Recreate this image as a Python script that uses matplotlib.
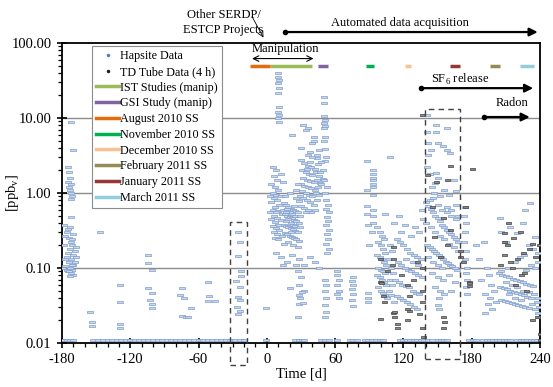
import matplotlib
matplotlib.use("Agg")
import matplotlib.pyplot as plt
from matplotlib.lines import Line2D
from matplotlib.patches import Rectangle
from matplotlib.ticker import FixedLocator, FormatStrFormatter, LogLocator, NullFormatter, MultipleLocator

plt.rcParams["font.family"] = "Liberation Serif"
plt.rcParams["mathtext.fontset"] = "custom"
plt.rcParams["mathtext.rm"] = "Liberation Serif"
plt.rcParams["axes.unicode_minus"] = False

# ---------------------------------------------------------------------------
# Data: (day, ppbv)
# ---------------------------------------------------------------------------

# Hapsite, baseline period before day 0
hap_pre = [
    (-178, 0.38), (-177, 0.27), (-176, 0.30), (-175, 0.33), (-174, 0.25), (-172, 0.22),
    (-171, 0.20), (-173, 0.18), (-175, 0.16), (-170, 0.15), (-176, 0.14), (-172, 0.13),
    (-174, 0.12), (-170, 0.11), (-177, 0.105), (-173, 0.10), (-171, 0.095), (-175, 0.09),
    (-172, 0.085), (-170, 0.08), (-173, 0.078), (-169, 0.12), (-169, 0.17), (-171, 0.24),
    (-178, 0.20), (-177, 0.13), (-179, 0.10), (-176, 0.095), (-174, 0.09), (-171, 0.11),
    (-168, 0.14), (-168, 0.19), (-170, 0.28), (-173, 0.35), (-172, 0.48), (-175, 2.2),
    (-174, 1.9), (-173, 1.6), (-175, 1.4), (-172, 1.3), (-174, 1.2), (-173, 1.1),
    (-172, 1.0), (-171, 0.9), (-172, 0.82), (-170, 3.7), (-172, 8.8),
    (-155, 0.026), (-154, 0.019), (-154, 0.017), (-147, 0.30),
    (-129, 0.059), (-129, 0.035), (-129, 0.018), (-129, 0.016),
    (-104, 0.15), (-104, 0.117), (-101, 0.093), (-104, 0.054), (-101, 0.047),
    (-103, 0.037), (-101, 0.033), (-101, 0.029),
    (-76, 0.044), (-75, 0.054), (-73, 0.040), (-75, 0.023), (-71, 0.022),
    (-67, 0.029), (-69, 0.022), (-52, 0.065), (-51, 0.042), (-52, 0.036), (-46, 0.036),
    (-25, 0.30), (-24, 0.22), (-25, 0.145), (-23, 0.09), (-23, 0.078), (-27, 0.068),
    (-24, 0.055), (-25, 0.041), (-24, 0.037), (-26, 0.030), (-24, 0.027), (-25, 0.024),
    (-1, 0.029),
]

# Hapsite, manipulation period (days 0-60)
hap_manip = [
    (10, 39.5), (10, 35.6), (11, 32), (10, 29), (11, 24.9), (10, 21.4), (11, 14.1),
    (10, 12.1), (11, 10.9), (10, 9.9), (11, 8.9),
    (32, 8.1), (34, 7.0), (22, 5.9), (36, 7.3), (41, 5.6), (41, 5.0), (40, 4.6),
    (30, 4.0), (38, 3.5), (44, 3.2), (46, 3.8),
    (50, 19.3), (50, 16), (50, 10.6), (51, 9.4), (50, 8.6), (51, 7.9), (50, 7.3),
    (51, 5.6), (50, 4.9), (51, 3.9), (52, 3.0), (51, 2.7),
    (5, 2.2), (8, 2.0), (6, 1.7), (9, 1.5), (4, 1.3), (7, 1.2), (10, 1.1), (5, 1.0),
    (8, 0.95), (12, 0.9), (6, 0.85), (9, 0.8), (4, 0.75), (11, 0.7), (7, 0.65),
    (5, 0.6), (10, 0.58), (8, 0.55), (13, 0.52), (6, 0.5), (9, 0.47), (4, 0.45),
    (12, 0.43), (7, 0.41), (10, 0.38), (5, 0.36), (8, 0.34), (11, 0.32), (6, 0.3),
    (9, 0.28), (13, 0.27), (7, 0.25), (10, 0.24), (14, 0.6), (14, 1.4), (12, 1.8),
    (3, 0.9), (3, 0.55),
    (15, 0.74), (17, 0.7), (19, 0.66), (21, 0.62), (23, 0.6), (25, 0.57), (27, 0.55),
    (16, 0.52), (18, 0.5), (20, 0.48), (22, 0.46), (24, 0.44), (26, 0.42), (28, 0.4),
    (15, 0.38), (17, 0.36), (19, 0.35), (21, 0.34), (23, 0.33), (25, 0.31), (27, 0.3),
    (16, 0.29), (18, 0.28), (20, 0.27), (22, 0.26), (24, 0.25), (26, 0.24), (28, 0.23),
    (17, 0.42), (19, 0.45), (21, 0.4), (23, 0.37), (25, 0.36), (20, 0.56), (22, 0.53),
    (18, 0.62), (24, 0.68), (16, 0.9), (20, 1.0), (26, 0.85), (28, 0.78), (15, 0.21),
    (19, 0.22), (23, 0.2), (27, 0.19), (21, 0.3), (17, 0.55), (25, 0.5), (29, 0.35),
    (29, 0.5),
    (30, 2.75), (33, 2.5), (36, 2.3), (39, 2.2), (42, 2.1), (45, 2.4), (48, 2.6),
    (31, 2.0), (34, 1.9), (37, 1.8), (40, 1.75), (43, 1.9), (46, 1.7), (49, 2.0),
    (32, 1.6), (35, 1.5), (38, 1.45), (41, 1.4), (44, 1.5), (47, 1.35), (30, 1.3),
    (33, 1.25), (36, 1.2), (39, 1.15), (42, 1.1), (45, 1.2), (48, 1.3), (31, 1.05),
    (34, 1.0), (37, 0.95), (40, 0.9), (43, 1.0), (46, 0.95), (32, 0.85), (35, 0.8),
    (38, 0.75), (41, 0.7), (44, 0.8), (30, 0.68), (33, 0.64), (36, 0.6), (39, 0.56),
    (42, 0.6), (34, 0.55), (29, 0.9), (44, 2.9), (40, 3.0), (36, 3.2), (47, 1.9),
    (49, 1.55), (27, 1.3), (26, 1.1), (35, 2.1), (38, 2.6),
    (52, 0.8), (54, 0.7), (52, 0.62), (55, 0.55), (53, 0.48), (54, 0.42), (52, 0.37),
    (55, 0.32), (53, 0.28), (54, 0.24), (52, 0.21), (55, 0.18), (53, 0.16), (51, 1.0),
    (53, 1.2), (50, 1.5),
    (8, 0.16), (12, 0.14), (18, 0.12), (22, 0.15), (28, 0.13), (33, 0.11), (38, 0.14),
    (42, 0.12), (46, 0.1), (14, 0.11),
    (20, 0.054), (26, 0.11), (28, 0.044), (28, 0.033), (27, 0.022), (33, 0.05),
    (27, 0.09), (30, 0.075), (28, 0.06), (31, 0.048), (29, 0.04), (32, 0.034),
    (51, 0.07), (52, 0.06), (51, 0.05), (52, 0.04), (51, 0.032), (52, 0.026), (51, 0.022),
]

# Hapsite, automated period before the SF6 box (days 60-139)
hap_mid = [
    (62, 0.09), (62, 0.08), (63, 0.07), (62, 0.06), (63, 0.05), (62, 0.045), (63, 0.04),
    (76, 0.077), (75, 0.068), (76, 0.06), (75, 0.052), (76, 0.045), (75, 0.038), (76, 0.031),
    (88, 2.7), (93, 2.0), (93, 1.8), (93, 1.6), (93, 1.5), (93, 1.3), (93, 1.2), (88, 1.1),
    (93, 0.94), (88, 0.67), (93, 0.6), (88, 0.53), (93, 0.5), (89, 0.047), (89, 0.04),
    (89, 0.035), (90, 0.2), (92, 0.3), (89, 0.38), (93, 0.4),
    (108, 3.0), (104, 0.53), (97, 0.35), (99, 0.3), (101, 0.27), (103, 0.24), (98, 0.22),
    (100, 0.2), (102, 0.18), (104, 0.16), (97, 0.15), (99, 0.14), (101, 0.13), (103, 0.12),
    (105, 0.11), (98, 0.1), (100, 0.095), (102, 0.09), (104, 0.085), (97, 0.08),
    (99, 0.075), (101, 0.07), (103, 0.065), (105, 0.06), (98, 0.055), (100, 0.05),
    (102, 0.047), (104, 0.044), (106, 0.04), (108, 0.2), (110, 0.17), (107, 0.13),
    (109, 0.1), (111, 0.085), (108, 0.07), (110, 0.06), (107, 0.05), (109, 0.043), (112, 0.035),
    (114, 0.24), (117, 0.22), (120, 0.2), (123, 0.18), (126, 0.16), (129, 0.15), (132, 0.14),
    (135, 0.13), (115, 0.12), (118, 0.11), (121, 0.1), (124, 0.095), (127, 0.09),
    (130, 0.085), (133, 0.08), (136, 0.075), (113, 0.07), (116, 0.065), (119, 0.06),
    (122, 0.058), (125, 0.055), (128, 0.05), (131, 0.047), (134, 0.045), (114, 0.042),
    (117, 0.04), (120, 0.037), (123, 0.035), (126, 0.033), (129, 0.03), (132, 0.028),
    (121, 0.37), (118, 0.3), (127, 0.27), (134, 0.3), (136, 0.6), (137, 0.45), (130, 0.35),
    (112, 0.4), (116, 0.5), (122, 0.13), (128, 0.12), (133, 0.11),
]

# Hapsite, SF6 release box (days 139-170)
hap_sf6 = [
    (141, 11), (149, 8.1), (149, 6.5), (141, 6.5), (142, 4.6), (144, 3.8), (142, 3.2),
    (150, 4.6), (161, 3.4), (158, 7.3), (158, 3.7), (155, 4.2), (149, 1.85), (150, 1.6),
    (148, 1.35), (164, 1.5), (166, 1.05), (141, 2.2), (143, 1.8), (145, 1.2), (147, 1.0),
    (152, 0.9), (156, 1.1), (160, 0.95), (143, 0.8),
    (140, 0.75), (142, 0.68), (144, 0.62), (146, 0.56), (148, 0.5), (150, 0.46),
    (152, 0.42), (154, 0.38), (156, 0.35), (158, 0.32), (160, 0.3), (162, 0.28),
    (164, 0.26), (166, 0.24), (168, 0.22), (141, 0.2), (143, 0.19), (145, 0.18),
    (147, 0.17), (149, 0.16), (151, 0.15), (153, 0.14), (155, 0.13), (157, 0.12),
    (159, 0.115), (161, 0.11), (163, 0.105), (165, 0.1), (167, 0.095), (140, 0.4),
    (144, 0.35), (148, 0.3), (152, 0.27), (156, 0.24), (160, 0.21), (164, 0.19),
    (168, 0.17), (142, 0.14), (146, 0.12), (150, 0.11), (154, 0.1), (158, 0.55),
    (162, 0.5), (166, 0.45), (146, 0.85), (150, 0.7), (154, 0.6), (158, 0.65),
    (162, 0.6), (166, 0.7), (168, 0.5),
    (145, 0.085), (150, 0.075), (155, 0.07), (160, 0.08), (165, 0.065), (148, 0.055),
    (152, 0.05), (156, 0.045), (162, 0.05), (151, 0.04), (150, 0.032), (151, 0.028),
]

# Hapsite, radon period (days 170-240)
hap_late = [
    (174, 0.65), (173, 0.5), (175, 0.4), (174, 0.3), (173, 0.22), (175, 0.17), (174, 0.13),
    (176, 0.1), (175, 0.085), (176, 0.07), (175, 0.055), (176, 0.045),
    (205, 0.46), (206, 0.3), (220, 0.29), (231, 0.74), (227, 0.6), (236, 0.26), (225, 0.4),
    (214, 0.35), (210, 0.22), (230, 0.2), (234, 0.18), (238, 0.16), (226, 0.15),
    (222, 0.14), (218, 0.12), (238, 0.12), (232, 0.11), (236, 0.1), (228, 0.095),
    (212, 0.1), (206, 0.09),
    (204, 0.085), (207, 0.08), (210, 0.078), (213, 0.075), (216, 0.072), (219, 0.07),
    (222, 0.068), (225, 0.065), (228, 0.062), (231, 0.06), (234, 0.058), (205, 0.056),
    (208, 0.054), (211, 0.052), (214, 0.05), (217, 0.048), (220, 0.046), (223, 0.045),
    (226, 0.043), (229, 0.041), (232, 0.04), (206, 0.038), (209, 0.036), (212, 0.035),
    (215, 0.034), (218, 0.033), (221, 0.032), (224, 0.031), (227, 0.03), (230, 0.029),
    (210, 0.065), (215, 0.06), (220, 0.055), (225, 0.05), (230, 0.048), (235, 0.045),
    (238, 0.04), (237, 0.035), (239, 0.03), (238, 0.025), (239, 0.022), (236, 0.028),
    (233, 0.033), (213, 0.045), (218, 0.04), (223, 0.038),
    (191, 0.22), (193, 0.1), (195, 0.08), (197, 0.06), (192, 0.045), (196, 0.04),
    (194, 0.033), (198, 0.028), (192, 0.025), (200, 0.05), (201, 0.035), (186, 0.13),
    (184, 0.2), (188, 0.07),
]

# Hapsite readings sitting at the detection floor
floor_ppb = 0.011
floor_days = [
    -180, -178, -176, -173, -170, -153,
    -148, -144, -140, -136, -132, -128, -124, -120, -116, -112, -108, -104, -100,
    -96, -92, -88, -84, -80, -76, -72, -68, -64, -60, -56, -52, -48, -44, -40,
    -36, -32, -28, -24, -20,
    -1, 25, 28, 31, 33, 48, 51, 55, 62, 73, 76, 79, 86, 89, 92, 96, 99, 102,
    117, 120, 123, 126, 129, 132, 135, 138, 142, 145, 150, 153, 156, 158,
    178, 181, 184, 190, 193, 196, 199, 202, 205, 208, 211, 214,
    220, 223, 226, 229, 232, 235, 237,
]

# TD tube samples (4 h)
td_tube = [
    (99, 0.065), (102, 0.042), (111, 0.19), (111, 0.13), (110, 0.11), (123, 0.06),
    (125, 0.042), (111, 0.025), (99, 0.021), (114, 0.018), (125, 0.027), (134, 0.024),
    (136, 0.016), (136, 11),
    (141, 1.73), (149, 1.4), (145, 0.65), (155, 0.46), (161, 0.32), (147, 0.26),
    (158, 0.2), (152, 0.14), (155, 0.022), (156, 0.019), (158, 1.5), (161, 2.3),
    (174, 0.65), (170, 0.17), (172, 0.12), (178, 0.066), (178, 0.057), (180, 2.1),
    (208, 0.29), (208, 0.22), (208, 0.15), (211, 0.2), (214, 0.12), (220, 0.13),
    (223, 0.08), (226, 0.085), (230, 0.18), (233, 0.21), (236, 0.14), (233, 0.02),
    (239, 0.2), (240, 0.013),
    (99, 0.13), (100, 0.063), (103, 0.035), (112, 0.026), (112, 0.022), (114, 0.016),
    (123, 0.028), (123, 0.02), (132, 0.12), (136, 0.1), (136, 0.05), (136, 0.035),
    (137, 0.012), (155, 0.016), (170, 0.14), (178, 0.063), (215, 0.1), (225, 0.16),
    (237, 0.022), (240, 0.011), (118, 0.08), (128, 0.07), (106, 0.09), (218, 0.06),
    (228, 0.05), (205, 0.11), (212, 0.4), (222, 0.3), (216, 0.25),
]

# Study periods shown as coloured bars near the top (start day, end day)
study_names = ["IST Studies (manip)", "GSI Study (manip)", "August 2010 SS",
               "November 2010 SS", "December 2010 SS", "February 2011 SS",
               "January 2011 SS", "March 2011 SS"]
study_colors = ["#9BBB59", "#8064A2", "#E46C0A", "#00B050", "#FAC090",
                "#948A54", "#953735", "#92CDDC"]
study_start = [2.6, 45, -15, 87, 121, 196, 161, 222]
study_end = [40, 54, 2.6, 94, 127, 205, 170, 235]
study_level = 50

# ---------------------------------------------------------------------------
# Plot
# ---------------------------------------------------------------------------

fig = plt.figure(figsize=(5.53, 3.87), dpi=100)
ax = fig.add_axes([62 / 553, 44 / 387, 478 / 553, 300 / 387])

ax.set_yscale("log")
ax.set_xlim(-180, 240)
ax.set_ylim(0.01, 100)

for v in [0.1, 1, 10]:
    ax.axhline(v, color="#8C8C8C", lw=1.0, zorder=1)

dash = [(-1, -0.35), (1, -0.35), (1, 0.35), (-1, 0.35), (-1, -0.35)]
hap_all = hap_pre + hap_manip + hap_mid + hap_sf6 + hap_late
hx = [p[0] for p in hap_all] + floor_days
hy = [p[1] for p in hap_all] + [floor_ppb] * len(floor_days)
ax.plot(hx, hy, ls="none", marker=dash, ms=4.0, mfc="#C9D8EC", mec="#7D9DCB",
        mew=0.5, zorder=3)
ax.plot([p[0] for p in td_tube], [p[1] for p in td_tube], ls="none", marker=dash,
        ms=3.6, mfc="#8A8A8A", mec="#404040", mew=0.5, zorder=4)

for s, e, c in zip(study_start, study_end, study_colors):
    ax.plot([s, e], [study_level, study_level], color=c, lw=2.5,
            solid_capstyle="butt", zorder=5)

# dashed boxes
box_kw = dict(fill=False, ls=(0, (4, 3)), lw=1.0, ec="#404040", clip_on=False, zorder=6)
ax.add_patch(Rectangle((-32.5, 0.0051), 15, 0.414 - 0.0051, **box_kw))
ax.add_patch(Rectangle((139, 0.0062), 30.5, 13.2 - 0.0062, **box_kw))

# arrows
def dot_arrow(x0, x1, y):
    ax.annotate("", xy=(x1, y), xytext=(x0, y), annotation_clip=False,
                arrowprops=dict(arrowstyle="-|>", lw=1.6, color="k",
                                mutation_scale=12, shrinkA=0, shrinkB=0))
    ax.plot([x0], [y], "o", color="k", ms=3, clip_on=False, zorder=7)

dot_arrow(16, 238, 140)
dot_arrow(135, 234, 25)
dot_arrow(191, 231, 10.3)

ax.text(117, 185, "Automated data acquisition", ha="center", va="center", fontsize=9)
ax.text(170, 33, "SF$_\\mathrm{6}$ release", ha="center", va="center", fontsize=9)
ax.text(215, 15.8, "Radon", ha="center", va="center", fontsize=9)

ax.text(16, 82, "Manipulation", ha="center", va="center", fontsize=9)
ax.annotate("", xy=(-13, 62), xytext=(41, 62),
            arrowprops=dict(arrowstyle="<->", lw=0.8, color="k", shrinkA=0, shrinkB=0))

ax.text(-38, 190, "Other SERDP/\nESTCP Projects", ha="center", va="center",
        fontsize=9, linespacing=1.35)
ax.annotate("", xy=(-3, 118), xytext=(-13, 225), annotation_clip=False,
            arrowprops=dict(arrowstyle="->", lw=0.6, color="k", shrinkA=0, shrinkB=0))

# axes styling
for sp in ax.spines.values():
    sp.set_linewidth(1.3)
    sp.set_color("k")

ax.xaxis.set_major_locator(MultipleLocator(60))
ax.xaxis.set_minor_locator(MultipleLocator(10))
ax.yaxis.set_major_locator(FixedLocator([0.01, 0.1, 1, 10, 100]))
ax.yaxis.set_major_formatter(FormatStrFormatter("%.2f"))
ax.yaxis.set_minor_locator(LogLocator(base=10, subs=range(2, 10)))
ax.yaxis.set_minor_formatter(NullFormatter())
ax.tick_params(which="major", direction="inout", length=7, width=1.2, labelsize=10.5,
               pad=4)
ax.tick_params(which="minor", direction="out", length=3, width=0.9)

ax.set_xlabel("Time [d]", fontsize=10.5, labelpad=1)
ax.set_ylabel("[ppb$_\\mathrm{v}$]", fontsize=10.5)
ax.yaxis.set_label_coords(-0.085, 0.5)

handles = [
    Line2D([], [], ls="none", marker=".", ms=3, color="#4F81BD"),
    Line2D([], [], ls="none", marker=".", ms=3, color="#202020"),
]
labels = ["Hapsite Data", "TD Tube Data (4 h)"]
for name, c in zip(study_names, study_colors):
    handles.append(Line2D([], [], color=c, lw=2.5))
    labels.append(name)
leg = ax.legend(handles, labels, loc="upper left", bbox_to_anchor=(0.063, 0.99),
                fontsize=8.7, frameon=True, fancybox=False, framealpha=1,
                edgecolor="#8C8C8C", handlelength=1.9, handletextpad=0.05,
                labelspacing=0.31, borderpad=0.35, borderaxespad=0)
leg.get_frame().set_linewidth(0.8)
leg.set_zorder(8)

fig.savefig("out.png", dpi=100)
